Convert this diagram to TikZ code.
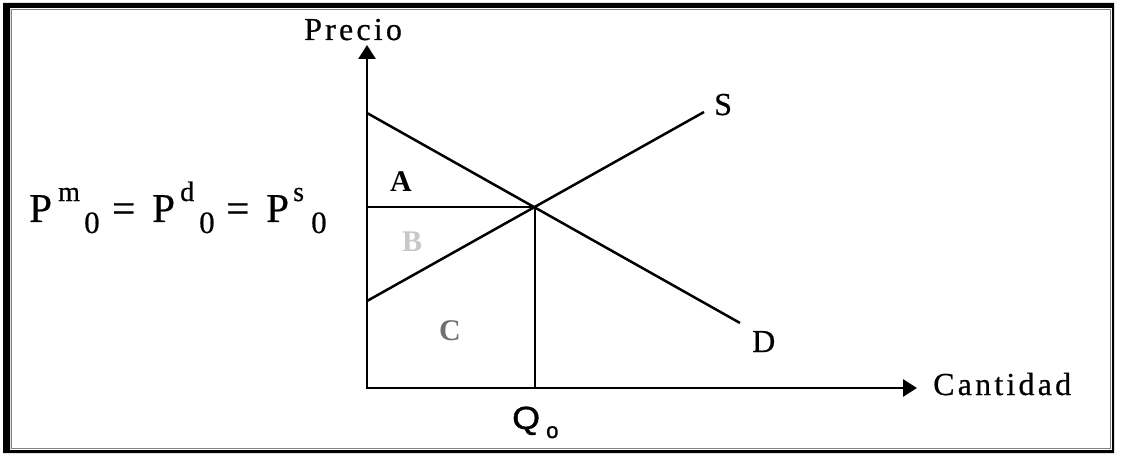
\documentclass[tikz,border=0pt]{standalone}
\usepackage{fontspec}
\setmainfont{Liberation Serif}[FakeBold=0.6]
\newfontfamily\qfont{Liberation Sans}[FakeBold=1.2]
\newfontfamily\spfont{Liberation Serif}[LetterSpace=10,FakeBold=0.6]
\newfontfamily\bfserif{Liberation Serif Bold}
\usetikzlibrary{arrows.meta}
\definecolor{lbgray}{RGB}{200,200,200}
\definecolor{cgray}{RGB}{112,112,112}
\tikzset{
  curve/.style={line width=2.5pt, line cap=butt},
  axis/.style={line width=2.7pt, {Triangle[length=14pt,width=17pt]}-{Triangle[length=14pt,width=17pt]}},
  lbl/.style={inner sep=0pt, anchor=base west, font=\fontsize{32}{36}\selectfont},
  abc/.style={inner sep=0pt, anchor=base west, font=\fontsize{30}{36}\selectfont\bfserif},
  big/.style={inner sep=0pt, anchor=base west, font=\fontsize{41}{41}\selectfont},
  supf/.style={inner sep=0pt, anchor=base west, font=\fontsize{28}{28}\selectfont},
  subf/.style={inner sep=0pt, anchor=base west, font=\fontsize{31}{31}\selectfont},
}
\begin{document}
\begin{tikzpicture}[x=1pt,y=-1pt]
\useasboundingbox (0,0) rectangle (1121,457);
% frame
\fill[black, even odd rule] (3,3) rectangle (1114,453) (10,8) rectangle (1112,450);
\draw[gray, line width=1.2pt] (11.5,9.5) rectangle (1110.5,448.5);
% coordinates
\coordinate (O) at (367,388);
\coordinate (ytop) at (367,45);
\coordinate (xend) at (917,388);
\coordinate (dstart) at (367,113);
\coordinate (dend) at (740,323);
\coordinate (sstart) at (367,301);
\coordinate (send) at (704,112);
\coordinate (E) at (535,207);
\coordinate (Ey) at (367,207);
\coordinate (Ex) at (535,388);
% axes
\draw[axis] (ytop) -- (O) -- (xend);
% curves
\draw[curve] (dstart) -- (dend);
\draw[curve] (sstart) -- (send);
\draw[curve] (Ey) -- (E) -- (Ex);
% labels
\node[lbl] (precio) at (304,40) {\spfont Precio};
\node[lbl] (cantidad) at (933,395) {\spfont Cantidad};
\node[lbl] (S) at (714,115) {S};
\node[lbl] (D) at (752,352) {D};
\node[abc] (A) at (390,192) {A};
\node[abc, text=lbgray] (B) at (402,251) {B};
\node[abc, text=cgray] (C) at (439,340) {C};
\node[inner sep=0pt, anchor=base west, font=\fontsize{32}{32}\selectfont\qfont] (Q) at (512,429) {\scalebox{1.12}[1]{Q}};
\node[inner sep=0pt, anchor=base west, font=\fontsize{22}{22}\selectfont\qfont] (Qo) at (546,438) {o};
% price label
\node[big] (P1) at (29,222) {P};
\node[supf] (m1) at (58,201) {m};
\node[subf] (z1) at (84,233) {0};
\node[big] (eq1) at (112,222) {=};
\node[big] (P2) at (152,222) {P};
\node[supf] (d2) at (180,201) {d};
\node[subf] (z2) at (199,233) {0};
\node[big] (eq2) at (226,222) {=};
\node[big] (P3) at (266,222) {P};
\node[supf] (s3) at (293,201) {s};
\node[subf] (z3) at (311,233) {0};
\end{tikzpicture}
\end{document}
